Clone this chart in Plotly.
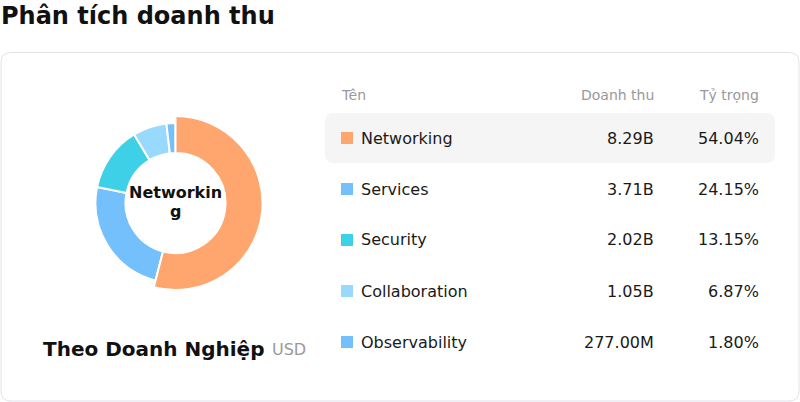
import plotly.graph_objects as go

W, H = 800, 402

categories = ["Networking", "Services", "Security", "Collaboration", "Observability"]
revenue_values = [8.29e9, 3.71e9, 2.02e9, 1.05e9, 277.00e6]
revenue_labels = ["8.29B", "3.71B", "2.02B", "1.05B", "277.00M"]
share_labels = ["54.04%", "24.15%", "13.15%", "6.87%", "1.80%"]
colors = ["#FFA66F", "#74C0FC", "#3DD0E6", "#99D9FD", "#74C0FC"]
selected_index = 0

title_text = "Phân tích doanh thu"
subtitle_text = "Theo Doanh Nghiệp"
unit_text = "USD"
header_labels = ["Tên", "Doanh thu", "Tỷ trọng"]
center_label_lines = ["Networkin", "g"]

FONT = "DejaVu Sans"


def px(x):
    return x / W


def py(y):
    return 1 - y / H


def rounded_rect(x0, y0, x1, y1, r):
    X = lambda v: px(v)
    Y = lambda v: py(v)
    return (
        f"M {X(x0 + r)} {Y(y0)} L {X(x1 - r)} {Y(y0)} "
        f"Q {X(x1)} {Y(y0)} {X(x1)} {Y(y0 + r)} "
        f"L {X(x1)} {Y(y1 - r)} Q {X(x1)} {Y(y1)} {X(x1 - r)} {Y(y1)} "
        f"L {X(x0 + r)} {Y(y1)} Q {X(x0)} {Y(y1)} {X(x0)} {Y(y1 - r)} "
        f"L {X(x0)} {Y(y0 + r)} Q {X(x0)} {Y(y0)} {X(x0 + r)} {Y(y0)} Z"
    )


# donut geometry (pixels)
CX, CY = 175.5, 203
R_OUT, R_SEL, R_IN = 80, 87, 50

fig = go.Figure()

# base ring
fig.add_trace(
    go.Pie(
        labels=categories,
        values=revenue_values,
        hole=R_IN / R_OUT,
        sort=False,
        direction="clockwise",
        rotation=0,
        marker=dict(colors=colors, line=dict(color="#ffffff", width=2)),
        textinfo="none",
        hoverinfo="skip",
        showlegend=False,
        domain=dict(x=[px(CX - R_OUT), px(CX + R_OUT)], y=[py(CY + R_OUT), py(CY - R_OUT)]),
    )
)

# emphasised (selected) slice, drawn larger
sel_colors = [c if i == selected_index else "rgba(0,0,0,0)" for i, c in enumerate(colors)]
sel_lines = ["#ffffff" if i == selected_index else "rgba(0,0,0,0)" for i in range(len(colors))]
fig.add_trace(
    go.Pie(
        labels=categories,
        values=revenue_values,
        hole=R_IN / R_SEL,
        sort=False,
        direction="clockwise",
        rotation=0,
        marker=dict(colors=sel_colors, line=dict(color=sel_lines, width=2)),
        textinfo="none",
        hoverinfo="skip",
        showlegend=False,
        domain=dict(x=[px(CX - R_SEL), px(CX + R_SEL)], y=[py(CY + R_SEL), py(CY - R_SEL)]),
    )
)

shapes = []
annotations = []

shapes.append(
    dict(type="path", xref="paper", yref="paper",
         path=rounded_rect(1, 52.5, 799, 401, 10),
         line=dict(color="#E2E2EA", width=1), fillcolor="#ffffff", layer="below")
)
shapes.append(
    dict(type="path", xref="paper", yref="paper",
         path=rounded_rect(325, 113, 775, 163, 9),
         line=dict(width=0), fillcolor="#F5F5F5", layer="below")
)

annotations.append(dict(text=f"<b>{title_text}</b>", x=px(-1), y=py(16), xref="paper", yref="paper",
                        xanchor="left", yanchor="middle", showarrow=False,
                        font=dict(family=FONT, size=24, color="#111111")))

for j, line in enumerate(center_label_lines):
    annotations.append(dict(text=f"<b>{line}</b>", x=px(CX), y=py(192 + 19 * j), xref="paper", yref="paper",
                            xanchor="center", yanchor="middle", showarrow=False, borderpad=0,
                            font=dict(family=FONT, size=16, color="#111111")))

annotations.append(dict(text=f"<b>{subtitle_text}</b>", x=px(41), y=py(349), xref="paper", yref="paper",
                        xanchor="left", yanchor="middle", showarrow=False,
                        font=dict(family=FONT, size=20, color="#111111")))
annotations.append(dict(text=unit_text, x=px(270), y=py(349), xref="paper", yref="paper",
                        xanchor="left", yanchor="middle", showarrow=False,
                        font=dict(family=FONT, size=16, color="#999999")))

header_y = 95
annotations.append(dict(text=header_labels[0], x=px(339), y=py(header_y), xref="paper", yref="paper",
                        xanchor="left", yanchor="middle", showarrow=False,
                        font=dict(family=FONT, size=14, color="#999999")))
annotations.append(dict(text=header_labels[1], x=px(656), y=py(header_y), xref="paper", yref="paper",
                        xanchor="right", yanchor="middle", showarrow=False,
                        font=dict(family=FONT, size=14, color="#999999")))
annotations.append(dict(text=header_labels[2], x=px(761), y=py(header_y), xref="paper", yref="paper",
                        xanchor="right", yanchor="middle", showarrow=False,
                        font=dict(family=FONT, size=14, color="#999999")))

row0, row_step = 138, 51
for i, name in enumerate(categories):
    yc = row0 + i * row_step
    shapes.append(dict(type="rect", xref="paper", yref="paper",
                       x0=px(341), x1=px(353), y0=py(yc + 6), y1=py(yc - 6),
                       line=dict(width=0), fillcolor=colors[i]))
    annotations.append(dict(text=name, x=px(359), y=py(yc), xref="paper", yref="paper",
                            xanchor="left", yanchor="middle", showarrow=False,
                            font=dict(family=FONT, size=16, color="#1a1a1a")))
    annotations.append(dict(text=revenue_labels[i], x=px(656), y=py(yc), xref="paper", yref="paper",
                            xanchor="right", yanchor="middle", showarrow=False,
                            font=dict(family=FONT, size=16, color="#1a1a1a")))
    annotations.append(dict(text=share_labels[i], x=px(761), y=py(yc), xref="paper", yref="paper",
                            xanchor="right", yanchor="middle", showarrow=False,
                            font=dict(family=FONT, size=16, color="#1a1a1a")))

fig.update_layout(
    width=W, height=H,
    margin=dict(l=0, r=0, t=0, b=0),
    paper_bgcolor="#ffffff",
    plot_bgcolor="#ffffff",
    shapes=shapes,
    annotations=annotations,
    font=dict(family=FONT),
)

fig.write_html(
    "out.html",
    config={"displayModeBar": False},
    post_script="document.body.style.margin='0';document.body.style.overflow='hidden';",
)
